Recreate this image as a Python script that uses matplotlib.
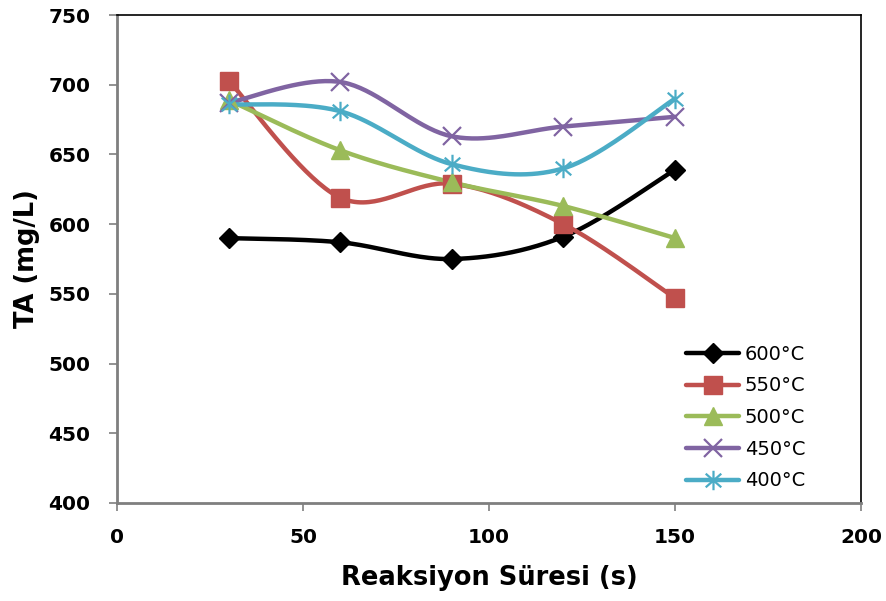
import numpy as np
import matplotlib
matplotlib.use("Agg")
import matplotlib.pyplot as plt
from matplotlib.path import Path

# Reaction time (s) and total acidity (mg/L) per temperature
time_s = [30, 60, 90, 120, 150]
ta_600 = [590, 587, 575, 591, 639]
ta_550 = [703, 619, 629, 600, 547]
ta_500 = [689, 653, 630, 613, 590]
ta_450 = [687, 702, 663, 670, 677]
ta_400 = [686, 681, 643, 640, 690]
labels = ["600°C", "550°C", "500°C", "450°C", "400°C"]
colors = ["#000000", "#C0504D", "#9BBB59", "#8064A2", "#4BACC6"]

# Asterisk marker: vertical bar plus two diagonals
star = Path(
    [(0, -1), (0, 1), (-0.8, -0.7), (0.8, 0.7), (-0.8, 0.7), (0.8, -0.7)],
    [Path.MOVETO, Path.LINETO, Path.MOVETO, Path.LINETO, Path.MOVETO, Path.LINETO],
)


def smooth(x, y, n=40):
    """Catmull-Rom style smoothed curve through the points."""
    x = np.asarray(x, float)
    y = np.asarray(y, float)
    px = np.concatenate([[x[0]], x, [x[-1]]])
    py = np.concatenate([[y[0]], y, [y[-1]]])
    xs, ys = [], []
    for i in range(1, len(px) - 2):
        p0, p1, p2, p3 = (np.array([px[j], py[j]]) for j in range(i - 1, i + 3))
        c1 = p1 + (p2 - p0) / 6.0
        c2 = p2 - (p3 - p1) / 6.0
        t = np.linspace(0, 1, n)[:, None]
        b = ((1 - t) ** 3) * p1 + 3 * ((1 - t) ** 2) * t * c1 + 3 * (1 - t) * t ** 2 * c2 + t ** 3 * p2
        xs.append(b[:, 0])
        ys.append(b[:, 1])
    return np.concatenate(xs), np.concatenate(ys)


fig = plt.figure(figsize=(8.87, 6.01), dpi=100)
ax = fig.add_axes([0.1319, 0.1631, 0.8388, 0.8119])

series = [ta_600, ta_550, ta_500, ta_450, ta_400]
markers = [
    dict(marker="D", markersize=10, markerfacecolor=colors[0], markeredgecolor=colors[0]),
    dict(marker="s", markersize=13, markerfacecolor=colors[1], markeredgecolor=colors[1]),
    dict(marker="^", markersize=13, markerfacecolor=colors[2], markeredgecolor=colors[2]),
    dict(marker="x", markersize=13, markeredgewidth=1.6, markeredgecolor=colors[3]),
    dict(marker=star, markersize=14, markeredgewidth=1.6, markeredgecolor=colors[4], markerfacecolor="none"),
]

handles = []
for vals, lab, col, mk in zip(series, labels, colors, markers):
    sx, sy = smooth(time_s, vals)
    ax.plot(sx, sy, color=col, lw=3.2, solid_capstyle="round", zorder=2)
    ax.plot(time_s, vals, linestyle="none", zorder=3, **mk)
    h, = ax.plot([], [], color=col, lw=3.2, solid_capstyle="round", **mk)
    h.set_label(lab)
    handles.append(h)

ax.set_xlim(0, 200)
ax.set_ylim(400, 750)
ax.set_xticks([0, 50, 100, 150, 200])
ax.set_yticks(np.arange(400, 751, 50))

for s in ["top", "right"]:
    ax.spines[s].set_color("black")
    ax.spines[s].set_linewidth(1.2)
for s in ["left", "bottom"]:
    ax.spines[s].set_color("#7f7f7f")
    ax.spines[s].set_linewidth(2.0)

ax.tick_params(axis="both", direction="out", length=6, width=1.2, color="#7f7f7f",
               labelsize=14.5)
ax.tick_params(axis="x", pad=12)
ax.tick_params(axis="y", pad=13)
for lbl in ax.get_xticklabels() + ax.get_yticklabels():
    lbl.set_fontweight("bold")

ax.set_xlabel("Reaksiyon Süresi (s)", fontsize=18.5, fontweight="bold", labelpad=13)
ax.set_ylabel("TA (mg/L)", fontsize=18.5, fontweight="bold", labelpad=6.5)

ax.legend(handles=handles, loc="lower right", bbox_to_anchor=(0.942, 0.0),
          frameon=False, fontsize=14, handlelength=2.7, handletextpad=0.3,
          labelspacing=0.65, borderaxespad=0.25)

fig.savefig("out.png", dpi=100, facecolor="white")
